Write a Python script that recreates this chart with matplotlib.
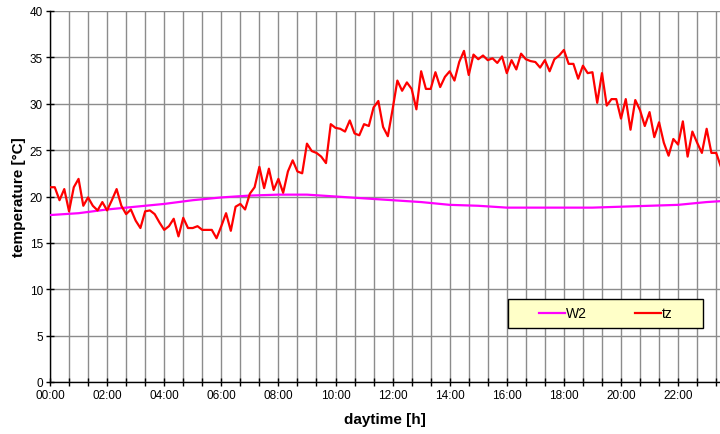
import numpy as np
import matplotlib
matplotlib.use('Agg')
import matplotlib.pyplot as plt
from matplotlib.patches import Rectangle

plt.rcParams['font.family'] = ['Liberation Sans', 'DejaVu Sans']

# tz every 10 minutes from 00:00
tz = [21.0, 21.0, 19.6, 20.8, 18.4, 21.0, 21.9, 19.0, 19.9, 19.0,
      18.5, 19.4, 18.5, 19.6, 20.8, 19.0, 18.1, 18.6, 17.4, 16.6,
      18.4, 18.5, 18.1, 17.2, 16.4, 16.8, 17.6, 15.7, 17.7, 16.6,
      16.6, 16.8, 16.4, 16.4, 16.4, 15.5, 16.8, 18.2, 16.3, 18.9,
      19.2, 18.6, 20.3, 21.0, 23.2, 20.9, 23.0, 20.7, 21.9, 20.4,
      22.7, 23.9, 22.7, 22.5, 25.7, 24.9, 24.7, 24.3, 23.6, 27.8,
      27.4, 27.3, 27.0, 28.2, 26.8, 26.6, 27.8, 27.6, 29.6, 30.3,
      27.5, 26.5, 29.4, 32.5, 31.4, 32.3, 31.6, 29.4, 33.5, 31.6,
      31.6, 33.4, 31.8, 32.9, 33.5, 32.5, 34.5, 35.7, 33.1, 35.3,
      34.8, 35.2, 34.7, 34.9, 34.4, 35.1, 33.3, 34.7, 33.7, 35.4,
      34.8, 34.6, 34.5, 33.9, 34.7, 33.5, 34.8, 35.2, 35.8, 34.3,
      34.3, 32.7, 34.1, 33.3, 33.4, 30.1, 33.3, 29.8, 30.5, 30.5,
      28.4, 30.5, 27.2, 30.4, 29.3, 27.6, 29.1, 26.4, 28.0, 25.8,
      24.4, 26.2, 25.6, 28.1, 24.3, 27.0, 25.8, 24.7, 27.3, 24.7,
      24.7, 23.2]

# W2 hourly from 00:00
w2 = [18.0, 18.2, 18.6, 18.9, 19.2, 19.6, 19.9, 20.1, 20.2, 20.2,
      20.0, 19.8, 19.6, 19.4, 19.1, 19.0, 18.8, 18.8, 18.8, 18.8,
      18.9, 19.0, 19.1, 19.4, 19.6]

t_tz = np.arange(len(tz)) * 10 / 60
t_w2 = np.arange(len(w2))

fig = plt.figure(figsize=(7.2, 4.35), dpi=100)
ax = fig.add_axes([50/720, 52/435, 670/720, 371/435])

ax.plot(t_w2, w2, color='#FF00FF', lw=1.6, label='W2', zorder=3)
ax.plot(t_tz, tz, color='#FF0000', lw=1.6, label='tz', zorder=3)

ax.set_xlim(0, 670 / 28.55)
ax.set_ylim(0, 40)

ticks = np.arange(0, 24, 2/3)
labels = ['%02d:00' % round(t) if abs(t / 2 - round(t / 2)) < 1e-6 else '' for t in ticks]
ax.set_xticks(ticks)
ax.set_xticklabels(labels)
ax.set_yticks(np.arange(0, 41, 5))

ax.grid(True, color='#8c8c8c', lw=1)
ax.set_axisbelow(True)
for s in ['top', 'right']:
    ax.spines[s].set_visible(False)
for s in ['left', 'bottom']:
    ax.spines[s].set_color('black')
    ax.spines[s].set_linewidth(1)
ax.tick_params(direction='inout', length=6, width=1, labelsize=8.5, pad=2)

ax.set_xlabel('daytime [h]', fontsize=11, fontweight='bold', labelpad=8)
ax.set_ylabel('temperature [°C]', fontsize=11, fontweight='bold', labelpad=3)

# legend box
ax.add_patch(Rectangle((0.684, 0.146), 0.291, 0.078, transform=ax.transAxes,
                       facecolor='#FFFFC8', edgecolor='black', lw=1, zorder=4))
leg = ax.legend(loc='center', bbox_to_anchor=(0.8295, 0.185), ncol=2, frameon=False,
                fontsize=10, handlelength=1.9, handletextpad=0.1, columnspacing=3.4)
leg.set_zorder(5)

fig.savefig('out.png', dpi=100)
